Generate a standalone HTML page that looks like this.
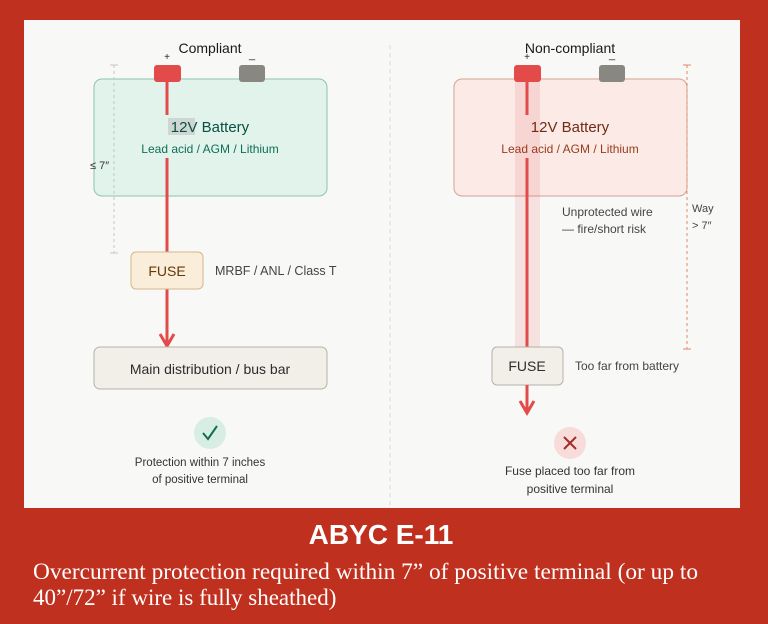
<!DOCTYPE html>
<html><head><meta charset="utf-8"><style>
html,body{margin:0;padding:0;background:#c0301f;}
body{width:768px;height:624px;position:relative;overflow:hidden;font-family:"Liberation Sans",sans-serif;}
svg{position:absolute;left:0;top:0}
</style></head><body>
<svg width="768" height="624" viewBox="0 0 768 624" font-family="Liberation Sans, sans-serif">
<rect x="0" y="0" width="768" height="624" fill="#c0301f"/>
<rect x="24" y="20" width="716" height="488" fill="#f8f8f6"/>
<line x1="390" y1="45" x2="390" y2="505" stroke="#dcdad4" stroke-dasharray="4 4"/>
<!-- LEFT -->
<text x="210" y="53" text-anchor="middle" font-size="14" fill="#1a1a1a">Compliant</text>
<text x="167" y="60" text-anchor="middle" font-size="10" fill="#222">+</text>
<text x="252" y="58" text-anchor="middle" font-size="11" fill="#222">_</text>
<rect x="94" y="79" width="233" height="117" rx="8" fill="#e2f3ec" stroke="#8cc4ab"/>
<rect x="154" y="65" width="27" height="17" rx="3" fill="#e24b4a"/>
<rect x="239" y="65" width="26" height="17" rx="3" fill="#888780"/>
<line x1="114" y1="65" x2="114" y2="253" stroke="#c8c6c0" stroke-dasharray="3 3"/>
<line x1="110" y1="65" x2="118" y2="65" stroke="#c8c6c0"/>
<line x1="110" y1="253" x2="118" y2="253" stroke="#c8c6c0"/>
<text x="90" y="169" font-size="11" fill="#333">≤ 7″</text>
<line x1="167" y1="82" x2="167" y2="115" stroke="#e24b4a" stroke-width="3"/>
<line x1="167" y1="158" x2="167" y2="344" stroke="#e24b4a" stroke-width="3"/>
<polyline points="160,334 167,346 174,334" fill="none" stroke="#e24b4a" stroke-width="3"/>
<rect x="168" y="118" width="27" height="17" fill="#d0d6d3"/>
<text x="210" y="132" text-anchor="middle" font-size="15" fill="#085041">12V Battery</text>
<text x="210" y="153" text-anchor="middle" font-size="12" fill="#0f6e56">Lead acid / AGM / Lithium</text>
<rect x="131" y="252" width="72" height="37" rx="5" fill="#faeeda" stroke="#d4b68a"/>
<text x="167" y="276" text-anchor="middle" font-size="14" fill="#633806">FUSE</text>
<text x="215" y="275" font-size="12.5" fill="#444">MRBF / ANL / Class T</text>
<rect x="94" y="347" width="233" height="42" rx="6" fill="#f1efe8" stroke="#b4b2a9"/>
<text x="210" y="374" text-anchor="middle" font-size="14" fill="#2c2c2a">Main distribution / bus bar</text>
<circle cx="210" cy="433" r="16" fill="#d8ede4"/>
<polyline points="203,433 208,439 217,426" fill="none" stroke="#0f6e56" stroke-width="2"/>
<text x="200" y="466" text-anchor="middle" font-size="11.5" fill="#333">Protection within 7 inches</text>
<text x="200" y="483" text-anchor="middle" font-size="11.5" fill="#333">of positive terminal</text>
<!-- RIGHT -->
<text x="570" y="53" text-anchor="middle" font-size="14" fill="#1a1a1a">Non-compliant</text>
<text x="527" y="60" text-anchor="middle" font-size="10" fill="#222">+</text>
<text x="612" y="58" text-anchor="middle" font-size="11" fill="#222">_</text>
<rect x="454" y="79" width="233" height="117" rx="8" fill="#fbeae6" stroke="#d9a090"/>
<rect x="515" y="82" width="25" height="265" fill="#e24b4a" fill-opacity="0.13"/>
<rect x="514" y="65" width="27" height="17" rx="3" fill="#e24b4a"/>
<rect x="599" y="65" width="26" height="17" rx="3" fill="#888780"/>
<line x1="527" y1="82" x2="527" y2="115" stroke="#e24b4a" stroke-width="3"/>
<line x1="527" y1="158" x2="527" y2="347" stroke="#e24b4a" stroke-width="3"/>
<text x="570" y="132" text-anchor="middle" font-size="15" fill="#712b13">12V Battery</text>
<text x="570" y="153" text-anchor="middle" font-size="12" fill="#993c1d">Lead acid / AGM / Lithium</text>
<line x1="687" y1="65" x2="687" y2="349" stroke="#e08a6a" stroke-dasharray="3 3"/>
<line x1="683" y1="65" x2="691" y2="65" stroke="#e08a6a"/>
<line x1="683" y1="349" x2="691" y2="349" stroke="#e08a6a"/>
<text x="692" y="212" font-size="11" fill="#444">Way</text>
<text x="692" y="229" font-size="11" fill="#444">&gt; 7″</text>
<text x="562" y="216" font-size="12" fill="#444">Unprotected wire</text>
<text x="562" y="233" font-size="12" fill="#444">— fire/short risk</text>
<rect x="492" y="347" width="71" height="38" rx="5" fill="#f1efe8" stroke="#b4b2a9"/>
<text x="527" y="371" text-anchor="middle" font-size="14" fill="#2c2c2a">FUSE</text>
<text x="575" y="370" font-size="12" fill="#444">Too far from battery</text>
<line x1="527" y1="385" x2="527" y2="412" stroke="#e24b4a" stroke-width="3"/>
<polyline points="520,401 527,413 534,401" fill="none" stroke="#e24b4a" stroke-width="3"/>
<circle cx="570" cy="443" r="16" fill="#f7dcda"/>
<path d="M564,437 L576,449 M576,437 L564,449" stroke="#a32d2d" stroke-width="2"/>
<text x="570" y="475" text-anchor="middle" font-size="12" fill="#333">Fuse placed too far from</text>
<text x="570" y="493" text-anchor="middle" font-size="12" fill="#333">positive terminal</text>
<!-- caption -->
<text x="381" y="544" text-anchor="middle" font-size="28" font-weight="bold" fill="#fff">ABYC E-11</text>
<text x="33" y="579" font-family="Liberation Serif, serif" font-size="23" fill="#fff" textLength="665" lengthAdjust="spacingAndGlyphs">Overcurrent protection required within 7” of positive terminal (or up to</text>
<text x="33" y="605" font-family="Liberation Serif, serif" font-size="23" fill="#fff">40”/72” if wire is fully sheathed)</text>
</svg>
</body></html>
